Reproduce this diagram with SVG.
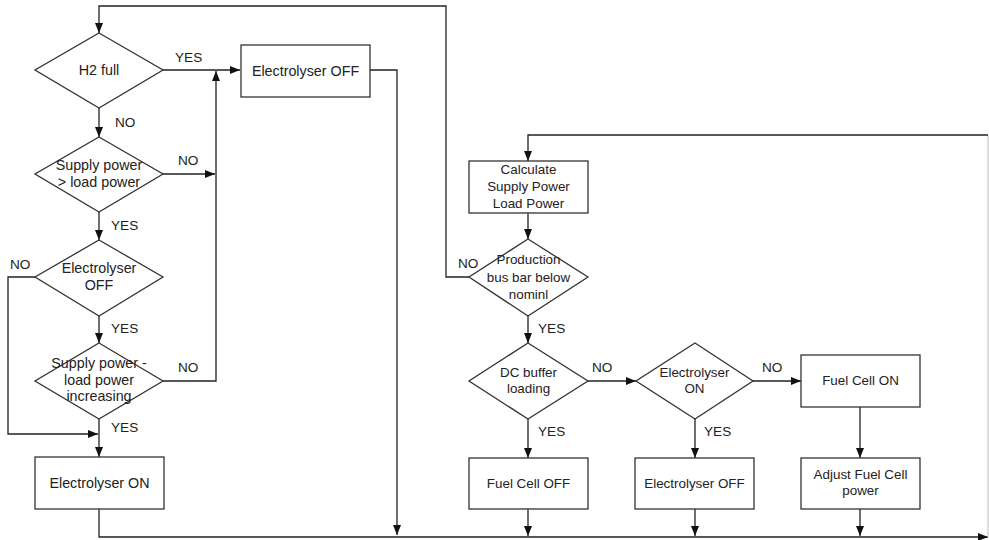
<svg xmlns="http://www.w3.org/2000/svg" width="989" height="540" viewBox="0 0 989 540">
<style>
.shape{fill:#fff;stroke:#333;stroke-width:1.3}
.c{fill:none;stroke:#222;stroke-width:1.3}
.t{font-family:"Liberation Sans",Arial,sans-serif;font-size:13.4px;fill:#222;text-anchor:middle}
.tl{font-family:"Liberation Sans",Arial,sans-serif;font-size:14.3px;fill:#222;text-anchor:middle}
.lbl{font-family:"Liberation Sans",Arial,sans-serif;font-size:13.6px;fill:#222}
</style>
<defs>
<marker id="ah" markerUnits="userSpaceOnUse" markerWidth="10" markerHeight="8" refX="10" refY="4" orient="auto">
<path d="M0,0 L10,4 L0,8 z" fill="#111"/>
</marker>
</defs>
<rect width="989" height="540" fill="#fff"/>
<g id="connectors">
<path class="c" d="M469,277 H446 V6 H99 V33" marker-end="url(#ah)"/>
<path class="c" d="M163,70 H240" marker-end="url(#ah)"/>
<path class="c" d="M370,70 H397 V535" marker-end="url(#ah)"/>
<path class="c" d="M99,108 V137" marker-end="url(#ah)"/>
<path class="c" d="M163,174 H215" marker-end="url(#ah)"/>
<path class="c" d="M99,212 V240" marker-end="url(#ah)"/>
<path class="c" d="M35,277 H8 V434 H98" marker-end="url(#ah)"/>
<path class="c" d="M99,316 V343" marker-end="url(#ah)"/>
<path class="c" d="M163,381 H216 V71" marker-end="url(#ah)"/>
<path class="c" d="M99,419 V457" marker-end="url(#ah)"/>
<path class="c" d="M99,509 V537 H988" marker-end="url(#ah)"/>
<path class="c" d="M988,537 V135" style="stroke:#ccc"/>
<path class="c" d="M988,135 H528 V161" marker-end="url(#ah)"/>
<path class="c" d="M528,213 V239" marker-end="url(#ah)"/>
<path class="c" d="M528,316 V343" marker-end="url(#ah)"/>
<path class="c" d="M528,419 V458" marker-end="url(#ah)"/>
<path class="c" d="M588,381 H636" marker-end="url(#ah)"/>
<path class="c" d="M695,419 V458" marker-end="url(#ah)"/>
<path class="c" d="M753,381 H801" marker-end="url(#ah)"/>
<path class="c" d="M860,407 V458" marker-end="url(#ah)"/>
<path class="c" d="M528,509 V536" marker-end="url(#ah)"/>
<path class="c" d="M695,509 V536" marker-end="url(#ah)"/>
<path class="c" d="M860,509 V536" marker-end="url(#ah)"/>
<text class="lbl" x="175" y="62">YES</text>
<text class="lbl" x="115" y="127">NO</text>
<text class="lbl" x="178" y="165">NO</text>
<text class="lbl" x="111" y="230">YES</text>
<text class="lbl" x="10" y="269">NO</text>
<text class="lbl" x="111" y="333">YES</text>
<text class="lbl" x="178" y="372">NO</text>
<text class="lbl" x="111" y="432">YES</text>
<text class="lbl" x="458" y="268">NO</text>
<text class="lbl" x="538" y="333">YES</text>
<text class="lbl" x="592" y="372">NO</text>
<text class="lbl" x="538" y="436">YES</text>
<text class="lbl" x="762" y="372">NO</text>
<text class="lbl" x="704" y="436">YES</text>
</g>
<g id="h2full">
<polygon class="shape" points="99,33 163,70 99,108 35,70"/>
<text class="tl" x="99" y="75">H2 full</text>
</g>
<g id="electrolyserOff1">
<rect class="shape" x="241" y="45" width="129" height="52"/>
<text class="tl" x="305.5" y="76">Electrolyser OFF</text>
</g>
<g id="supplyGtLoad">
<polygon class="shape" points="99,137 163,174 99,212 35,174"/>
<text class="tl" x="99" y="170">Supply power</text>
<text class="tl" x="99" y="187">&gt; load power</text>
</g>
<g id="electrolyserOffQ">
<polygon class="shape" points="99,240 163,277 99,316 35,277"/>
<text class="tl" x="99" y="273">Electrolyser</text>
<text class="tl" x="99" y="290">OFF</text>
</g>
<g id="supplyIncreasing">
<polygon class="shape" points="99,343 163,381 99,419 35,381"/>
<text class="tl" x="99" y="368">Supply power -</text>
<text class="tl" x="99" y="385">load power</text>
<text class="tl" x="99" y="401">increasing</text>
</g>
<g id="electrolyserOn1">
<rect class="shape" x="35" y="457" width="129" height="52"/>
<text class="tl" x="99.5" y="488">Electrolyser ON</text>
</g>
<g id="calculate">
<rect class="shape" x="469" y="161" width="119" height="52"/>
<text class="t" x="528.5" y="174">Calculate</text>
<text class="t" x="528.5" y="191">Supply Power</text>
<text class="t" x="528.5" y="208">Load Power</text>
</g>
<g id="production">
<polygon class="shape" points="528,239 588,277 528,316 469,277"/>
<text class="t" x="528.5" y="264">Production</text>
<text class="t" x="528.5" y="282">bus bar below</text>
<text class="t" x="528.5" y="299">nominl</text>
</g>
<g id="dcBuffer">
<polygon class="shape" points="528,343 588,381 528,419 469,381"/>
<text class="t" x="528.5" y="377">DC buffer</text>
<text class="t" x="528.5" y="393">loading</text>
</g>
<g id="electrolyserOnQ">
<polygon class="shape" points="695,343 753,381 695,419 636,381"/>
<text class="t" x="694.5" y="377">Electrolyser</text>
<text class="t" x="694.5" y="393">ON</text>
</g>
<g id="fuelCellOn">
<rect class="shape" x="801" y="355" width="119" height="52"/>
<text class="t" x="860.5" y="385">Fuel Cell ON</text>
</g>
<g id="fuelCellOff">
<rect class="shape" x="469" y="458" width="119" height="51"/>
<text class="t" x="528.5" y="488">Fuel Cell OFF</text>
</g>
<g id="electrolyserOff2">
<rect class="shape" x="635" y="458" width="119" height="51"/>
<text class="t" x="694.5" y="488">Electrolyser OFF</text>
</g>
<g id="adjustFuelCell">
<rect class="shape" x="801" y="458" width="119" height="51"/>
<text class="t" x="860.5" y="479">Adjust Fuel Cell</text>
<text class="t" x="860.5" y="495">power</text>
</g>
</svg>
